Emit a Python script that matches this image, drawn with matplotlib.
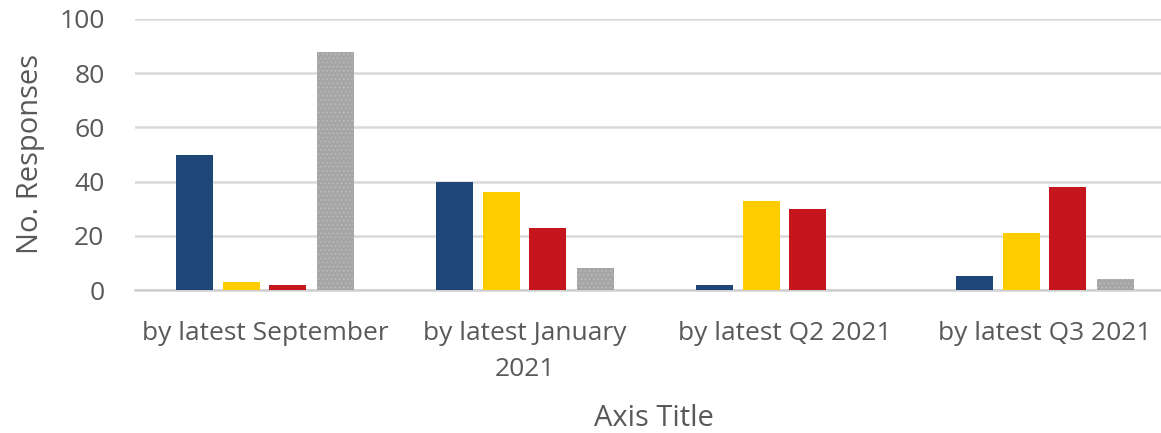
import numpy as np
import matplotlib
matplotlib.use("Agg")
import matplotlib.pyplot as plt

plt.rcParams["font.family"] = ["Open Sans", "DejaVu Sans"]
plt.rcParams["hatch.linewidth"] = 0.6

# ------------------------------------------------------------
# data
# ------------------------------------------------------------
categories = ["by latest September", "by latest January\n2021",
              "by latest Q2 2021", "by latest Q3 2021"]
series_blue = [50, 40, 2, 5]
series_yellow = [3, 36, 33, 21]
series_red = [2, 23, 30, 38]
series_gray = [88, 8, 0, 4]
y_ticks = [0, 20, 40, 60, 80, 100]

colors = ["#1F4678", "#FFCC00", "#C4161C", "#A6A6A6"]
text_gray = "#595959"

W, H = 1161, 433
fig = plt.figure(figsize=(W / 100, H / 100), dpi=100)
# axes spans past the right edge, the last group is cut a bit
left, right, top, bottom = 135, 1175, 19, 290
ax = fig.add_axes([left / W, 1 - bottom / H, (right - left) / W, (bottom - top) / H])

x = np.arange(len(categories))
offsets = [-0.271, -0.090, 0.087, 0.270]
bar_w = 0.142
all_series = [series_blue, series_yellow, series_red, series_gray]

for vals, off, col in zip(all_series, offsets, colors):
    if col == "#A6A6A6":
        ax.bar(x + off, vals, width=bar_w, color=col, edgecolor="#BDBDBD",
               hatch="....", linewidth=0, zorder=3)
    else:
        ax.bar(x + off, vals, width=bar_w, color=col, linewidth=0, zorder=3)

ax.set_xlim(-0.5, len(categories) - 0.5)
ax.set_ylim(0, 100)
ax.set_yticks(y_ticks)
ax.set_xticks(x)
ax.set_xticklabels(categories)
ax.tick_params(axis="both", length=0, colors=text_gray, labelsize=19)
ax.tick_params(axis="x", pad=22)
ax.tick_params(axis="y", pad=22)
for lbl in ax.get_xticklabels():
    lbl.set_linespacing(1.6)

ax.grid(axis="y", color="#D9D9D9", linewidth=1.8, zorder=0)
ax.set_axisbelow(True)
for side in ["top", "right", "left"]:
    ax.spines[side].set_visible(False)
ax.spines["bottom"].set_color("#D0D0D0")
ax.spines["bottom"].set_linewidth(1.8)

ax.set_ylabel("No. Responses", fontsize=21, color=text_gray, labelpad=10)
fig.text(654 / W, 1 - 419 / H, "Axis Title", ha="center", va="center",
         fontsize=21, color=text_gray)

fig.savefig("out.png", dpi=100, facecolor="white")
